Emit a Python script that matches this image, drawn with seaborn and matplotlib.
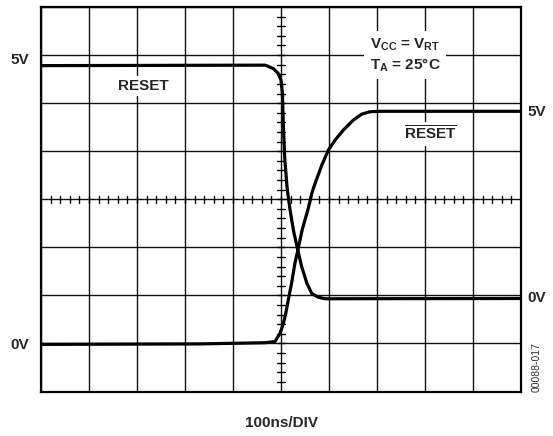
import numpy as np
import pandas as pd
import seaborn as sns
import matplotlib.pyplot as plt

# scope screen, both axes in divisions (100 ns/DIV horizontally)
reset_x = [0.00, 4.67, 4.84, 4.94, 5.00, 5.03, 5.05, 5.08, 5.125, 5.16,
           5.19, 5.26, 5.35, 5.43, 5.54, 5.64, 5.78, 5.92, 6.11, 10.00]
reset_y = [6.78, 6.79, 6.72, 6.62, 6.48, 6.20, 5.51, 4.82, 4.26, 3.98,
           3.77, 3.35, 2.94, 2.60, 2.25, 2.04, 1.96, 1.93, 1.93, 1.935]

resetbar_x = [0.00, 3.31, 4.67, 4.875, 4.98, 5.05, 5.10, 5.15, 5.22, 5.29,
              5.36, 5.44, 5.56, 5.65, 5.71, 5.85, 5.985, 6.125, 6.30, 6.51,
              6.68, 6.85, 7.06, 10.00]
resetbar_y = [0.98, 0.99, 1.015, 1.04, 1.21, 1.42, 1.63, 1.90, 2.25, 2.67,
              2.98, 3.36, 3.78, 4.15, 4.33, 4.71, 5.02, 5.23, 5.44, 5.65,
              5.77, 5.82, 5.83, 5.83]

df = pd.concat([
    pd.DataFrame({"t": reset_x, "v": reset_y, "sig": "RESET"}),
    pd.DataFrame({"t": resetbar_x, "v": resetbar_y, "sig": "RESETBAR"}),
])

sns.set_style("white")
plt.rcParams["font.family"] = ["Liberation Sans", "DejaVu Sans"]
plt.rcParams["mathtext.fontset"] = "custom"
plt.rcParams["mathtext.rm"] = "Liberation Sans"
plt.rcParams["mathtext.bf"] = "Liberation Sans:bold"

fig = plt.figure(figsize=(5.53, 4.36), dpi=100)
ax = fig.add_axes([41 / 553, 44.5 / 436, 480 / 553, 384.5 / 436])

# grid
ax.set_xlim(0, 10)
ax.set_ylim(0, 8)
ax.set_xticks(range(11))
ax.set_yticks(range(9))
ax.grid(True, color="#111111", linewidth=1.0)
ax.tick_params(length=0, labelbottom=False, labelleft=False)
for s in ax.spines.values():
    s.set_color("black")
    s.set_linewidth(1.6)

# centre graticule ticks
for xt in np.arange(0.2, 10, 0.2):
    ax.plot([xt, xt], [4 - 0.075, 4 + 0.075], color="black", lw=1.0, zorder=2)
for yt in np.arange(0.2, 8, 0.2):
    ax.plot([5 - 0.085, 5 + 0.085], [yt, yt], color="black", lw=1.0, zorder=2)

sns.lineplot(data=df, x="t", y="v", units="sig", estimator=None, sort=False,
             color="black", linewidth=2.3, ax=ax, legend=False, zorder=4)
ax.set_xlabel("")
ax.set_ylabel("")

# labels inside the screen
white = dict(facecolor="white", edgecolor="none", pad=2)
ax.text(2.13, 6.36, "RESET", ha="center", va="center", fontsize=11,
        fontweight="bold", bbox=white, zorder=5)
ax.text(8.12, 5.36, r"$\overline{\mathbf{RESET}}$", ha="center", va="center",
        fontsize=11, bbox=white, zorder=5)
ax.text(7.58, 7.0,
        r"$\mathbf{V_{CC}}$ = $\mathbf{V_{RT}}$" + "\n" + r"$\mathbf{T_A}$ = 25°C",
        ha="center", va="center", fontsize=11, fontweight="bold", linespacing=1.25,
        bbox=dict(facecolor="white", edgecolor="none", pad=4), zorder=5)

# labels outside the screen
fig.text(20 / 553, 1 - 60 / 436, "5V", ha="center", va="center", fontsize=11, fontweight="bold")
fig.text(20 / 553, 1 - 345 / 436, "0V", ha="center", va="center", fontsize=11, fontweight="bold")
fig.text(537 / 553, 1 - 112 / 436, "5V", ha="center", va="center", fontsize=11, fontweight="bold")
fig.text(537 / 553, 1 - 298 / 436, "0V", ha="center", va="center", fontsize=11, fontweight="bold")
fig.text(537 / 553, 1 - 367 / 436, "00088-017", ha="center", va="center", fontsize=7.5,
         rotation=90, color="#333333")
fig.text(281 / 553, 1 - 423 / 436, "100ns/DIV", ha="center", va="center", fontsize=11,
         fontweight="bold")

fig.savefig("out.png", dpi=100)
